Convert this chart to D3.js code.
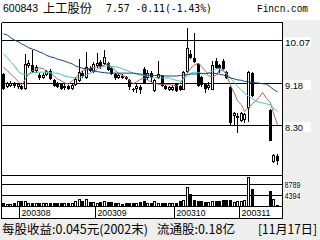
<!DOCTYPE html>
<html>
<head>
<meta charset="utf-8">
<script src="https://cdn.jsdelivr.net/npm/d3@7/dist/d3.min.js"></script>
<style>
  body { margin: 0; overflow: hidden; background: #fff; }
</style>
</head>
<body>
<div id="chart"></div>
<script>
// daily candles, 2003-07-25 .. 2003-11-17 (null = suspended)
const opens = [9.36, 9.12, 9.14, 9.18, 9.12, 9.12, 9.08, 9.55, 9.55, 9.45,
  9.35, 9.30, 9.36, 9.43, 9.24, 9.18, 9.16, 9.10, 9.12, 9.08,
  9.16, 9.24, 9.38, 9.30, 9.48, 9.42, 9.55, 9.62, 9.60, 9.60,
  9.48, 9.36, 9.30, 9.32, 9.30, 9.24, 9.06, 9.08, 9.10, 9.47,
  9.30, 9.38, 9.02, 9.30, 9.32, 9.12, 9.04, 9.06, 9.15, 9.12,
  9.06, 9.42, 9.78, 9.70, 9.58, 9.30, 9.16, 9.10, 9.06, 9.64,
  9.55, 9.64, 9.40, 9.10, 8.50, 8.46, 8.40, 8.42, 8.68, 9.38,
  null, null, null, null, 8.61, 7.55, 7.66];
const highs = [9.38, 9.20, 9.22, 9.20, 9.18, 9.14, 9.78, 9.65, 9.86, 9.54,
  9.38, 9.38, 9.45, 9.46, 9.26, 9.20, 9.18, 9.15, 9.14, 9.16,
  9.30, 9.68, 9.42, 9.82, 9.52, 9.62, 9.80, 9.66, 9.86, 9.62,
  9.50, 9.38, 9.36, 9.36, 9.33, 9.25, 9.08, 9.15, 9.14, 9.50,
  9.45, 9.42, 9.26, 9.64, 9.34, 9.14, 9.12, 9.14, 9.18, 9.14,
  9.42, 10.32, 9.86, 10.22, 9.60, 9.32, 9.18, 9.20, 9.64, 9.70,
  9.58, 9.68, 9.42, 9.12, 8.58, 8.55, 8.58, 8.56, 9.42, 9.40,
  null, null, null, null, 8.63, 7.70, 7.70];
const lows = [9.05, 9.10, 9.12, 9.10, 9.08, 9.04, 9.05, 9.50, 9.40, 9.40,
  9.25, 9.28, 9.34, 9.26, 9.12, 9.10, 9.06, 9.06, 9.05, 9.06,
  9.14, 9.22, 9.30, 9.28, 9.42, 9.40, 9.50, 9.48, 9.58, 9.44,
  9.36, 9.26, 9.28, 9.28, 9.26, 9.06, 9.00, 8.98, 8.97, 9.18,
  9.25, 9.22, 9.00, 9.28, 9.12, 9.05, 9.02, 9.02, 9.00, 9.02,
  9.04, 9.40, 9.70, 9.62, 9.12, 9.12, 8.98, 9.06, 9.04, 9.48,
  9.40, 9.46, 9.28, 8.32, 8.30, 8.15, 8.38, 8.36, 8.38, 8.90,
  null, null, null, null, 7.98, 7.52, 7.49];
const closes = [9.08, 9.18, 9.18, 9.13, 9.16, 9.08, 9.58, 9.60, 9.42, 9.50,
  9.30, 9.34, 9.43, 9.28, 9.14, 9.12, 9.08, 9.12, 9.08, 9.14,
  9.26, 9.40, 9.34, 9.50, 9.44, 9.58, 9.60, 9.52, 9.72, 9.46,
  9.38, 9.30, 9.34, 9.30, 9.28, 9.12, 9.04, 9.12, 9.06, 9.20,
  9.38, 9.30, 9.24, 9.36, 9.14, 9.08, 9.10, 9.10, 9.03, 9.05,
  9.40, 9.90, 9.72, 9.64, 9.14, 9.16, 9.08, 9.14, 9.55, 9.50,
  9.48, 9.48, 9.30, 8.36, 8.56, 8.48, 8.55, 8.52, 9.40, 8.92,
  null, null, null, null, 7.99, 7.68, 7.57];
const volumes = [1300, 1100, 1100, 1300, 2200, 2000, 2300, 1500, 1400, 1200,
  1300, 1200, 1300, 1400, 1300, 1200, 1300, 1300, 1300, 1400,
  2300, 2800, 2300, 2900, 1700, 1600, 1400, 1600, 2200, 1700,
  1600, 1300, 1200, 1100, 1200, 1300, 1200, 1300, 1600, 2200,
  1500, 1400, 2300, 1500, 1300, 1300, 1300, 1300, 1300, 2000,
  2600, 7800, 5100, 2600, 2300, 2000, 1700, 1700, 2000, 2300,
  2000, 2600, 2600, 2600, 1700, 2000, 2000, 2600, 11600, 7000,
  null, null, null, null, 6200, 3000, 500];

// moving averages
const maShort = [9.50, 9.43, 9.36, 9.29, 9.20, 9.13, 9.26, 9.36, 9.43, 9.47,
  9.49, 9.47, 9.42, 9.38, 9.31, 9.26, 9.22, 9.18, 9.15, 9.22,
  9.28, 9.37, 9.43, 9.46, 9.49, 9.50, 9.51, 9.51, 9.55, 9.58,
  9.50, 9.43, 9.38, 9.33, 9.29, 9.22, 9.16, 9.20, 9.25, 9.28,
  9.24, 9.19, 9.16, 9.15, 9.14, 9.15, 9.14, 9.13, 9.11, 9.18,
  9.28, 9.38, 9.48, 9.55, 9.59, 9.52, 9.42, 9.32, 9.30, 9.34,
  9.45, 9.42, 9.35, 9.12, 8.96, 8.80, 8.72, 8.58, 8.66, 8.74,
  8.80, 8.88, 8.98, 8.85, 8.76, 8.55, 8.30];
const maMid = [9.78, 9.70, 9.62, 9.53, 9.41, 9.37, 9.35, 9.35, 9.39, 9.40,
  9.40, 9.40, 9.40, 9.39, 9.38, 9.38, 9.35, 9.32, 9.30, 9.29,
  9.28, 9.28, 9.31, 9.35, 9.38, 9.42, 9.46, 9.50, 9.52, 9.53,
  9.52, 9.51, 9.50, 9.47, 9.44, 9.41, 9.38, 9.36, 9.34, 9.33,
  9.31, 9.29, 9.28, 9.28, 9.28, 9.28, 9.28, 9.25, 9.23, 9.21,
  9.26, 9.33, 9.38, 9.40, 9.39, 9.38, 9.37, 9.38, 9.42, 9.47,
  9.48, 9.45, 9.38, 9.28, 9.18, 9.10, 9.03, 8.96, 8.90, 8.85,
  8.80, 8.77, 8.76, 8.74, 8.72, 8.65, 8.58];
const maLong = [10.20, 10.17, 10.12, 10.07, 10.03, 9.99, 9.95, 9.91, 9.88, 9.85,
  9.82, 9.79, 9.75, 9.72, 9.70, 9.67, 9.65, 9.63, 9.60, 9.57,
  9.53, 9.50, 9.48, 9.47, 9.45, 9.43, 9.41, 9.40, 9.39, 9.38,
  9.38, 9.38, 9.38, 9.38, 9.38, 9.38, 9.38, 9.37, 9.36, 9.35,
  9.34, 9.34, 9.33, 9.33, 9.33, 9.32, 9.32, 9.32, 9.32, 9.33,
  9.34, 9.35, 9.36, 9.36, 9.37, 9.37, 9.37, 9.38, 9.38, 9.37,
  9.36, 9.34, 9.31, 9.28, 9.26, 9.24, 9.23, 9.21, 9.20, 9.19,
  9.18, 9.17, 9.16, 9.15, 9.09, 9.04, 8.99];

const priceTicks = [10.07, 9.18, 8.30];
const volumeTicks = [8789, 4394];
const monthStarts = [5, 26, 48, 66];
const monthLabels = ["200308", "200309", "200310", "200311"];

const W = 320, H = 240;
const L = 1.5, R = 282.5, topY = 22.5, priceBottom = 175.5, volBottom = 206.5, dateBottom = 218.5;

const svg = d3.select("#chart").append("svg")
  .attr("width", W).attr("height", H)
  .style("display", "block");

svg.append("rect").attr("width", W).attr("height", H).attr("fill", "#ffffff");
svg.append("rect").attr("x", 283).attr("y", 20).attr("width", W - 283).attr("height", 200).attr("fill", "#eeeeee");
svg.append("rect").attr("x", 0).attr("y", 219).attr("width", W).attr("height", H - 219).attr("fill", "#eeeeee");

const idx = d3.range(closes.length);
const x = d3.scaleBand().domain(idx).range([2, 279]);
const cx = i => Math.floor(x(i) + x.bandwidth() / 2) + 0.5;

const y = d3.scaleLinear().domain([8.30, 10.07]).range([125, 40]);
const vy = d3.scaleLinear().domain([0, 12000]).range([volBottom, 176]);
const snap = v => Math.round(v) + 0.5;

const g = svg.append("g").attr("shape-rendering", "crispEdges");

// price grid
priceTicks.forEach(t => {
  g.append("line").attr("x1", L).attr("x2", R)
    .attr("y1", snap(y(t))).attr("y2", snap(y(t)))
    .attr("stroke", "#000");
});
// volume grid
volumeTicks.forEach(t => {
  g.append("line").attr("x1", L).attr("x2", R)
    .attr("y1", snap(vy(t))).attr("y2", snap(vy(t)))
    .attr("stroke", "#000");
});

// candles + volume
idx.forEach(i => {
  if (closes[i] == null) return;
  const c = cx(i);
  const up = closes[i] >= opens[i];
  g.append("line").attr("x1", c).attr("x2", c)
    .attr("y1", Math.round(y(highs[i]))).attr("y2", Math.round(y(lows[i])) + 1)
    .attr("stroke", "#000");
  const yt = Math.round(y(Math.max(opens[i], closes[i])));
  const yb = Math.round(y(Math.min(opens[i], closes[i])));
  if (up) {
    g.append("rect").attr("x", c - 1).attr("y", yt + 0.5)
      .attr("width", 2).attr("height", Math.max(yb - yt, 1))
      .attr("fill", "#fff").attr("stroke", "#000");
  } else {
    g.append("rect").attr("x", c - 1.5).attr("y", yt)
      .attr("width", 3).attr("height", Math.max(yb - yt + 1, 1))
      .attr("fill", "#000");
  }
  const vt = Math.round(vy(volumes[i]));
  if (up) {
    g.append("rect").attr("x", c - 1).attr("y", vt + 0.5)
      .attr("width", 2).attr("height", Math.max(volBottom - 0.5 - vt, 1))
      .attr("fill", "#fff").attr("stroke", "#000");
  } else {
    g.append("rect").attr("x", c - 1.5).attr("y", vt)
      .attr("width", 3).attr("height", Math.max(volBottom - vt, 1))
      .attr("fill", "#000");
  }
});

// moving averages
[[maShort, "#b0685a"], [maMid, "#3fc4c4"], [maLong, "#10408c"]].forEach(([ma, col]) => {
  svg.append("path")
    .attr("d", d3.line().x(i => cx(i)).y(i => y(ma[i]))(idx))
    .attr("fill", "none").attr("stroke", col).attr("stroke-width", 1);
});

// frame
[topY, priceBottom, volBottom, dateBottom].forEach(v => {
  g.append("line").attr("x1", L).attr("x2", R).attr("y1", v).attr("y2", v).attr("stroke", "#000");
});
g.append("line").attr("x1", L).attr("x2", L).attr("y1", topY).attr("y2", dateBottom).attr("stroke", "#000");
g.append("line").attr("x1", R).attr("x2", R).attr("y1", topY).attr("y2", dateBottom).attr("stroke", "#000");

// month ticks
monthStarts.forEach((m, k) => {
  const mx = cx(m) - 2;
  g.append("line").attr("x1", mx).attr("x2", mx).attr("y1", volBottom).attr("y2", dateBottom).attr("stroke", "#000");
  svg.append("text").attr("x", mx + 2).attr("y", 216)
    .style("font-family", "Liberation Sans, Arial").style("font-size", "9px")
    .attr("textLength", 29).attr("lengthAdjust", "spacingAndGlyphs")
    .text(monthLabels[k]);
});

// right-side value labels
priceTicks.forEach(t => {
  const ty = Math.round(y(t));
  svg.append("rect").attr("x", 284).attr("y", ty - 3).attr("width", 27).attr("height", 10).attr("fill", "#fff");
  svg.append("text").attr("x", 285).attr("y", ty + 5.5)
    .style("font-family", "Liberation Sans, Arial").style("font-size", "9.5px")
    .attr("textLength", t >= 10 ? 25 : 18).attr("lengthAdjust", "spacingAndGlyphs")
    .text(t.toFixed(2));
});
volumeTicks.forEach(t => {
  const ty = Math.round(vy(t));
  svg.append("rect").attr("x", 284).attr("y", ty - 3).attr("width", 17).attr("height", 8).attr("fill", "#fff");
  svg.append("text").attr("x", 284.5).attr("y", ty + 3.5)
    .style("font-family", "Liberation Sans, Arial").style("font-size", "8.5px")
    .attr("textLength", 16).attr("lengthAdjust", "spacingAndGlyphs")
    .text(t);
});

// header
const head = svg.append("g").attr("fill", "#000");
head.append("text").attr("x", 3).attr("y", 12)
  .style("font-family", "Liberation Sans, Arial").style("font-size", "11px")
  .attr("textLength", 35).attr("lengthAdjust", "spacingAndGlyphs").text("600843");
head.append("text").attr("x", 43).attr("y", 12.5)
  .style("font-family", "Noto Sans CJK SC").style("font-size", "12px")
  .attr("textLength", 49).attr("lengthAdjust", "spacingAndGlyphs").text("上工股份");
head.append("text").attr("x", 106).attr("y", 12)
  .style("font-family", "DejaVu Sans Mono").style("font-size", "11px")
  .attr("textLength", 106).attr("lengthAdjust", "spacingAndGlyphs")
  .text("7.57 -0.11(-1.43%)");
head.append("text").attr("x", 257).attr("y", 12)
  .style("font-family", "Liberation Mono").style("font-size", "11px")
  .attr("textLength", 51).attr("lengthAdjust", "spacingAndGlyphs").text("Fincn.com");

// footer
const foot = [["每股收益:0.045元(2002末)", 2, 146], ["流通股:0.18亿", 157, 78], ["[11月17日]", 258, 59]];
foot.forEach(([t, fx, len]) => {
  svg.append("text").attr("x", fx).attr("y", 234)
    .style("font-family", "Noto Sans CJK SC").style("font-size", "12.5px")
    .attr("textLength", len).attr("lengthAdjust", "spacingAndGlyphs").text(t);
});
</script>
</body>
</html>
